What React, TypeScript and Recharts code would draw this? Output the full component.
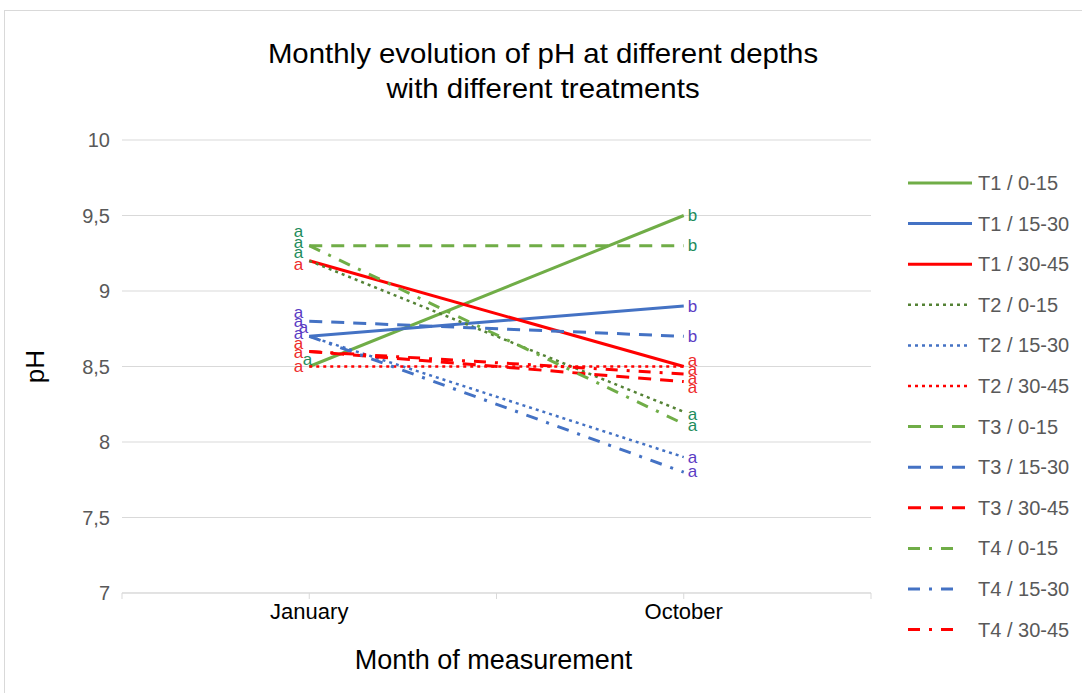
import React from "react";
import {
  LineChart,
  Line,
  XAxis,
  YAxis,
  CartesianGrid,
  Legend,
  LabelList,
} from "recharts";

const months = ["January", "October"];

const seriesNames = [
  "T1 / 0-15",
  "T1 / 15-30",
  "T1 / 30-45",
  "T2 / 0-15",
  "T2 / 15-30",
  "T2 / 30-45",
  "T3 / 0-15",
  "T3 / 15-30",
  "T3 / 30-45",
  "T4 / 0-15",
  "T4 / 15-30",
  "T4 / 30-45",
];

// pH per series (same order as seriesNames)
const januaryPH = [8.5, 8.7, 9.2, 9.2, 8.7, 8.5, 9.3, 8.8, 8.6, 9.3, 8.7, 8.6];
const octoberPH = [9.5, 8.9, 8.5, 8.2, 7.9, 8.5, 9.3, 8.7, 8.4, 8.12, 7.8, 8.45];

// significance letters
const januaryLetters = ["a", "a", "a", "a", "a", "a", "a", "a", "a", "a", "a", "a"];
const octoberLetters = ["b", "b", "a", "a", "a", "a", "b", "b", "a", "a", "a", "a"];

const yTicks = [7, 7.5, 8, 8.5, 9, 9.5, 10];

const GREEN = "#70AD47";
const BLUE = "#4472C4";
const RED = "#FF0000";

const lineColors = [GREEN, BLUE, RED, "#548235", BLUE, RED, GREEN, BLUE, RED, GREEN, BLUE, RED];
const labelColors = [
  "#1E8C5C", "#5B3CC4", "#EE2B2B",
  "#1E8C5C", "#5B3CC4", "#EE2B2B",
  "#1E8C5C", "#5B3CC4", "#EE2B2B",
  "#1E8C5C", "#5B3CC4", "#EE2B2B",
];
const DOT = "3 4";
const DASH = "13 9";
const DASHDOT = "12 9 3 9";
const dashes = ["", "", "", DOT, DOT, DOT, DASH, DASH, DASH, DASHDOT, DASHDOT, DASHDOT];
const lineWidths = [3, 3, 3, 2.5, 2.5, 2.5, 3, 3, 3, 3, 3, 3];
const legendLineEnds = [72, 72, 72, 67, 67, 67, 72, 72, 72, 62, 62, 62];

// label nudges [dx, dy] so stacked letters don't overlap
const janNudge = [
  [9, -7], [0, -15], [0, 4],
  [0, -8], [5, -9], [0, 0],
  [0, -14], [0, -9], [0, -8],
  [0, -3], [0, -3], [0, 1],
];
const octNudge = [
  [0, 0], [0, 0], [0, -6],
  [0, 3], [0, 0], [0, 3],
  [0, 0], [0, 0], [0, 6],
  [0, 2], [0, -1], [0, 4],
];

const data = months.map((m, mi) => {
  const row: Record<string, string | number> = { month: m };
  seriesNames.forEach((_, si) => {
    row[`s${si}`] = mi === 0 ? januaryPH[si] : octoberPH[si];
  });
  return row;
});

const FONT = "'Liberation Sans', Arial, sans-serif";
const W = 1082;
const H = 693;
const PLOT_LEFT = 122;
const PLOT_RIGHT = 871;
const HALF_BAND = (PLOT_RIGHT - PLOT_LEFT) / (months.length * 2);

const makeLabel = (si: number) => (props: any) => {
  const { x, y, index } = props;
  const jan = index === 0;
  const [dx, dy] = jan ? janNudge[si] : octNudge[si];
  return (
    <text
      x={x + (jan ? -6 : 4) + dx}
      y={y + dy}
      textAnchor={jan ? "end" : "start"}
      dominantBaseline="central"
      fill={labelColors[si]}
      fontSize={17}
      fontFamily={FONT}
    >
      {jan ? januaryLetters[si] : octoberLetters[si]}
    </text>
  );
};

const XTick = (props: any) => {
  const { x, y, payload } = props;
  const axisY = y;
  return (
    <g>
      <line x1={x - HALF_BAND} x2={x - HALF_BAND} y1={axisY} y2={axisY + 6} stroke="#D9D9D9" />
      <line x1={x} x2={x} y1={axisY} y2={axisY + 6} stroke="#D9D9D9" />
      <line x1={x + HALF_BAND} x2={x + HALF_BAND} y1={axisY} y2={axisY + 6} stroke="#D9D9D9" />
      <text
        x={x}
        y={axisY + 18}
        textAnchor="middle"
        dominantBaseline="central"
        fill="#000"
        fontSize={22}
        fontFamily={FONT}
      >
        {payload.value}
      </text>
    </g>
  );
};

const LegendBox = () => (
  <svg width={182} height={500}>
    {seriesNames.map((n, i) => {
      const cy = 23 + i * 40.6;
      return (
        <g key={n}>
          <line
            x1={8}
            x2={legendLineEnds[i]}
            y1={cy}
            y2={cy}
            stroke={lineColors[i]}
            strokeWidth={lineWidths[i]}
            strokeDasharray={dashes[i] || undefined}
          />
          <text
            x={78}
            y={cy}
            dominantBaseline="central"
            fill="#595959"
            fontSize={20}
            fontFamily={FONT}
          >
            {n}
          </text>
        </g>
      );
    })}
  </svg>
);

export default function App() {
  return (
    <div
      style={{
        position: "absolute",
        left: 0,
        top: 0,
        width: W,
        height: H,
        overflow: "hidden",
        background: "#fff",
        fontFamily: FONT,
      }}
    >
      <div
        style={{
          position: "absolute",
          left: 4,
          top: 10,
          width: 1100,
          height: 700,
          border: "1px solid #D9D9D9",
        }}
      />
      <div
        style={{
          position: "absolute",
          left: 0,
          top: 36,
          width: W,
          textAlign: "center",
          fontSize: 28,
          lineHeight: "35px",
          color: "#000",
          transform: "translateX(2px) scaleX(1.05)",
        }}
      >
        Monthly evolution of pH at different depths
        <br />
        with different treatments
      </div>
      <div style={{ position: "absolute", left: 0, top: 0 }}>
        <LineChart
          width={W}
          height={H}
          data={data}
          margin={{ top: 140, right: W - PLOT_RIGHT, bottom: 0, left: 62 }}
        >
          <CartesianGrid vertical={false} stroke="#D9D9D9" strokeWidth={1} />
          <XAxis
            dataKey="month"
            height={100}
            padding={{ left: HALF_BAND, right: HALF_BAND }}
            axisLine={{ stroke: "#D9D9D9" }}
            tickLine={false}
            tick={<XTick />}
            tickSize={0}
            tickMargin={0}
            interval={0}
            label={{
              value: "Month of measurement",
              position: "insideBottom",
              offset: 24,
              fill: "#000",
              fontSize: 27,
              dx: -3,
            }}
          />
          <YAxis
            width={60}
            domain={[7, 10]}
            ticks={yTicks}
            axisLine={false}
            tickLine={false}
            tickSize={0}
            tickMargin={12}
            tick={{ fill: "#595959", fontSize: 20 }}
            tickFormatter={(v: number) => String(v).replace(".", ",")}
            label={{
              value: "pH",
              angle: -90,
              position: "left",
              offset: 27,
              fill: "#000",
              fontSize: 26,
              style: { textAnchor: "middle" },
            }}
          />
          {seriesNames.map((n, i) => (
            <Line
              key={n}
              type="linear"
              dataKey={`s${i}`}
              name={n}
              stroke={lineColors[i]}
              strokeWidth={lineWidths[i]}
              strokeDasharray={dashes[i] || undefined}
              dot={false}
              activeDot={false}
              isAnimationActive={false}
            >
              <LabelList dataKey={`s${i}`} content={makeLabel(i)} />
            </Line>
          ))}
          <Legend
            layout="vertical"
            align="center"
            verticalAlign="middle"
            content={<LegendBox />}
            wrapperStyle={{ left: 900, top: 160, width: 182, height: 500 }}
          />
        </LineChart>
      </div>
    </div>
  );
}
